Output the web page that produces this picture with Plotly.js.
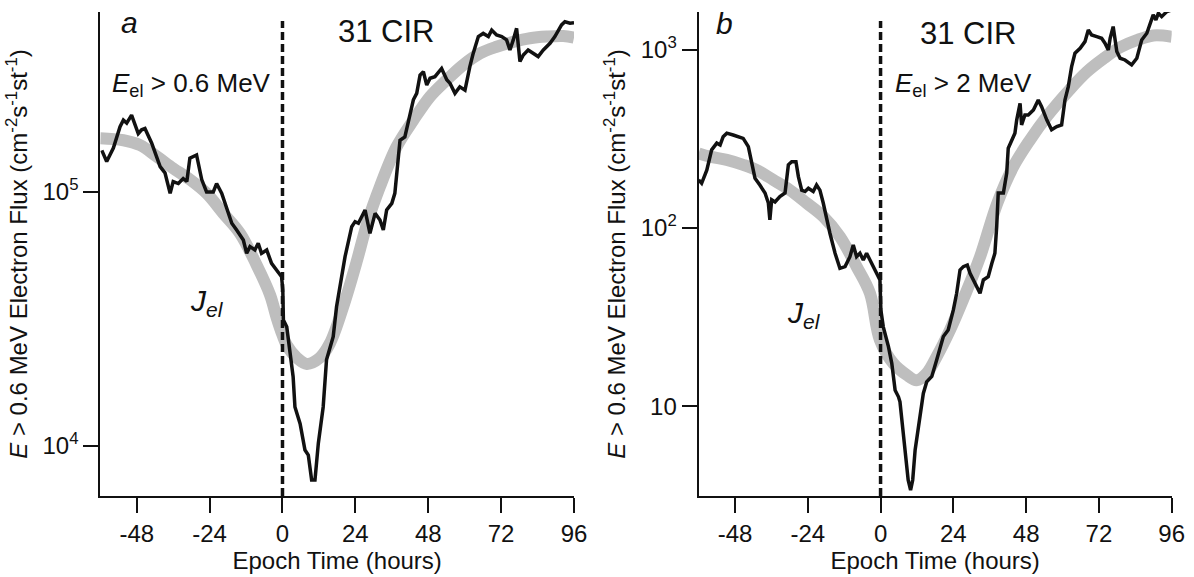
<!DOCTYPE html>
<html>
<head>
<meta charset="utf-8">
<script src="https://cdn.plot.ly/plotly-3.0.1.min.js"></script>
<style>html,body{margin:0;padding:0;background:#fff;}#chart{width:1194px;height:577px;}</style>
</head>
<body>
<div id="chart"></div>
<script>
// ---------------- data ----------------
const xTickVals = [-48, -24, 0, 24, 48, 72, 96];

// Panel a: E_el > 0.6 MeV
const timeA = [-59.5,-57.9,-55.7,-53.5,-52.4,-51.3,-49.7,-47.5,-46.4,-45.3,-43.1,-40.3,-38.7,-37.0,-36.0,-34.3,-32.7,-31.5,-30.5,-28.3,-26.6,-25.0,-22.8,-21.7,-20.0,-18.4,-16.7,-15.1,-12.9,-11.8,-10.7,-9.1,-8.0,-6.9,-5.2,-3.6,-1.9,-0.3,0.1,0.3,1.4,2.5,3.5,4.1,5.8,7.4,8.5,9.6,10.7,11.8,13.4,14.5,15.6,16.7,17.8,19.5,20.6,22.8,23.9,25.0,27.2,28.8,30.5,32.1,33.2,34.3,36.0,37.0,37.6,38.7,40.3,41.4,42.5,43.1,44.2,45.3,46.4,47.5,48.6,50.2,52.4,54.1,55.2,56.8,58.4,60.1,61.7,62.8,64.5,66.1,67.8,68.9,70.5,72.2,73.8,74.9,76.0,77.1,78.2,79.3,80.9,82.6,84.2,85.9,88.1,89.7,90.8,91.9,93.0,94.7,96.0];
const fluxA = [1.46e5,1.32e5,1.49e5,1.81e5,1.92e5,1.87e5,2.01e5,1.70e5,1.76e5,1.78e5,1.56e5,1.26e5,1.19e5,9.88e4,1.10e5,1.08e5,1.13e5,1.10e5,1.36e5,1.40e5,1.12e5,1.00e5,1.00e5,1.08e5,9.88e4,8.75e4,7.53e4,7.08e4,6.47e4,5.73e4,6.09e4,5.91e4,6.28e4,5.73e4,5.91e4,5.23e4,4.92e4,4.63e4,4.11e4,3.13e4,2.94e4,2.24e4,1.87e4,1.42e4,1.22e4,9.61e3,9.18e3,7.32e3,7.32e3,1.02e4,1.42e4,2.18e4,2.45e4,2.69e4,3.53e4,4.78e4,5.56e4,7.30e4,7.64e4,7.53e4,8.49e4,6.87e4,8.24e4,7.76e4,7.08e4,8.49e4,9.02e4,9.88e4,1.19e5,1.60e5,1.65e5,1.87e5,2.17e5,2.31e5,2.45e5,2.89e5,2.98e5,2.64e5,2.81e5,2.85e5,3.07e5,2.77e5,2.68e5,2.45e5,2.60e5,2.52e5,3.12e5,3.52e5,4.10e5,4.22e5,4.10e5,4.35e5,4.16e5,4.10e5,3.98e5,3.63e5,3.98e5,4.42e5,3.27e5,3.47e5,3.63e5,3.52e5,3.42e5,3.63e5,3.86e5,4.10e5,4.35e5,4.56e5,4.69e5,4.63e5,4.65e5];
const fitTimeA = [-60,-52.4,-46.9,-41.4,-36.0,-30.5,-25.0,-19.5,-14.0,-8.5,-4.1,-1.9,0,1.4,4.7,8.0,12.3,15.6,20.0,24.4,28.0,32.1,37.6,43.1,48.6,54.1,59.5,65.0,70.5,76.0,81.5,87.0,92.5,96];
const fitA = [1.63e5,1.60e5,1.53e5,1.38e5,1.24e5,1.12e5,9.88e4,8.24e4,6.87e4,5.15e4,3.93e4,3.19e4,2.73e4,2.49e4,2.22e4,2.10e4,2.22e4,2.53e4,3.53e4,5.30e4,7.62e4,1.05e5,1.51e5,1.92e5,2.38e5,2.77e5,3.17e5,3.52e5,3.74e5,3.91e5,4.04e5,4.10e5,4.12e5,4.06e5];
const yTickValsA = [1e4, 1e5];
const yTickTextA = ['10<sup>4</sup>', '10<sup>5</sup>'];
const levelA = 1.58e5, recoveryA = 40.3;

// Panel b: E_el > 2 MeV
const timeB = [-60,-59.0,-57.3,-55.7,-54.0,-52.9,-51.9,-50.7,-48.6,-45.3,-43.6,-42.5,-41.4,-39.8,-38.1,-37.0,-36.5,-35.9,-34.8,-33.2,-31.5,-30.4,-29.3,-27.9,-27.1,-26.0,-24.9,-23.8,-22.2,-21.1,-20.0,-18.9,-17.8,-16.7,-15.0,-13.4,-11.7,-10.1,-9.0,-7.9,-6.8,-5.7,-4.6,-2.9,-1.3,-0.2,0.1,0.9,2.6,3.7,4.8,5.9,6.4,8.1,9.1,9.9,10.6,11.4,12.4,14.1,15.2,16.9,18.5,20.7,22.3,24.0,25.1,26.2,27.3,28.6,29.5,31.1,32.8,33.9,35.5,36.7,37.7,38.3,38.8,40.5,41.6,42.1,43.2,44.3,44.9,46.0,46.5,47.6,48.7,50.4,52.0,53.1,54.8,56.4,58.1,59.7,60.8,61.9,63.0,64.1,65.8,67.4,68.5,69.6,71.3,72.9,74.0,75.1,75.7,76.7,77.9,79.0,80.6,82.8,84.5,86.1,87.8,88.8,89.9,90.8,91.6,92.7,94.4,96.0];
const fluxB = [186,178,211,274,299,292,325,340,332,318,286,231,190,174,157,138,111,144,140,150,157,226,235,235,194,163,160,167,160,174,163,138,111,93.4,72.1,59.4,60.7,69.0,80.3,69.0,72.1,66.1,72.1,63.4,55.7,51.1,34.7,27.9,21.6,17.4,12.3,11.3,10.6,5.69,3.86,3.39,3.86,5.69,7.36,11.8,13.7,14.7,18.2,24.6,26.8,34.7,43.0,58.1,60.7,62.0,55.7,49.0,43.0,51.1,53.3,63.4,72.1,102,157,157,203,280,312,340,404,500,378,430,430,459,522,479,404,355,370,378,522,620,803,954,1018,1109,1290,1209,1183,1158,1086,996,1158,1346,975,895,875,821,895,1133,1236,1376,1565,1467,1600,1531,1634,1670];
const fitTimeB = [-60,-56.2,-50.7,-45.3,-40.8,-35.4,-29.9,-24.4,-18.9,-13.4,-7.9,-3.5,-0.2,4.2,8.6,11.9,15.2,18.5,22.9,27.3,32.7,38.5,43.8,49.3,54.8,62.5,68.0,73.5,79.0,84.5,90.0,96];
const fitB = [262,251,241,226,211,186,163,138,116,89.4,60.7,43.0,23.5,17.4,15.0,14.0,15.3,19.0,26.8,40.0,68.0,138,221,312,421,600,750,890,1030,1130,1200,1180];
const yTickValsB = [10, 100, 1000];
const yTickTextB = ['10', '10<sup>2</sup>', '10<sup>3</sup>'];
const levelB = 260, recoveryB = 48;

const onsetTime = 0;

// ---------------- styling ----------------
const W = 1194, H = 577;
const FONT = 'Arial, "Liberation Sans", Helvetica, sans-serif';
const INK = '#111111';
const FIT_GREY = '#bebebe';
const REF_GREY = '#8a8a8a';
const plotTopPx = 12, plotBotPx = 496;
const yDom = [(H - plotBotPx) / H, (H - plotTopPx) / H];
const xDomA = [100.3 / W, 574 / W];
const xDomB = [698.6 / W, 1171.7 / W];
const yRangeA = [3.8013, 5.7098];
const yRangeB = [0.4969, 3.211];
const yTitle = '<i>E</i> > 0.6 MeV Electron Flux (cm<sup>-2</sup>s<sup>-1</sup>st<sup>-1</sup>)';

function xAxis(domain, anchor) {
  return {
    domain: domain, anchor: anchor, range: [-60, 96],
    tickvals: xTickVals, ticktext: xTickVals.map(String),
    ticks: 'outside', ticklen: 15, tickwidth: 2, tickcolor: INK,
    showline: true, linecolor: INK, linewidth: 2,
    showgrid: false, zeroline: false, mirror: false,
    tickfont: {family: FONT, size: 24, color: INK},
    title: {text: 'Epoch Time (hours)', font: {family: FONT, size: 24, color: INK}, standoff: 2},
    automargin: false, fixedrange: true
  };
}
function yAxis(anchor, range, tv, tt) {
  return {
    domain: yDom, anchor: anchor, type: 'log', range: range,
    tickvals: tv, ticktext: tt,
    ticks: 'outside', ticklen: 15, tickwidth: 2, tickcolor: INK,
    showline: true, linecolor: INK, linewidth: 2,
    showgrid: false, zeroline: false, mirror: false,
    tickfont: {family: FONT, size: 24, color: INK},
    title: {text: yTitle, font: {family: FONT, size: 24, color: INK}, standoff: 8},
    automargin: false, fixedrange: true
  };
}

const traces = [
  {x: fitTimeA, y: fitA, xaxis: 'x', yaxis: 'y', mode: 'lines',
   line: {color: FIT_GREY, width: 12, shape: 'spline', smoothing: 1}, hoverinfo: 'skip'},
  {x: timeA, y: fluxA, xaxis: 'x', yaxis: 'y', mode: 'lines',
   line: {color: INK, width: 3.5}, hoverinfo: 'skip'},
  {x: fitTimeB, y: fitB, xaxis: 'x2', yaxis: 'y2', mode: 'lines',
   line: {color: FIT_GREY, width: 12, shape: 'spline', smoothing: 1}, hoverinfo: 'skip'},
  {x: timeB, y: fluxB, xaxis: 'x2', yaxis: 'y2', mode: 'lines',
   line: {color: INK, width: 3.5}, hoverinfo: 'skip'}
];

const dashTop = (plotBotPx - 21) / (plotBotPx - plotTopPx);
const shapes = [
  // onset dashed lines
  {type: 'line', xref: 'x', yref: 'y domain', x0: onsetTime, x1: onsetTime, y0: 0, y1: dashTop,
   line: {color: INK, width: 3.5, dash: '8px,4px'}, layer: 'above'},
  {type: 'line', xref: 'x2', yref: 'y2 domain', x0: onsetTime, x1: onsetTime, y0: 0, y1: dashTop,
   line: {color: INK, width: 3.5, dash: '8px,4px'}, layer: 'above'},
  // recovery reference lines
  {type: 'line', xref: 'x', yref: 'y', x0: -60, x1: recoveryA, y0: Math.log10(levelA), y1: Math.log10(levelA),
   line: {color: REF_GREY, width: 1}, layer: 'below'},
  {type: 'line', xref: 'x', yref: 'y', x0: recoveryA, x1: recoveryA, y0: yRangeA[0], y1: Math.log10(levelA),
   line: {color: REF_GREY, width: 1}, layer: 'below'},
  {type: 'line', xref: 'x2', yref: 'y2', x0: -60, x1: recoveryB, y0: Math.log10(levelB), y1: Math.log10(levelB),
   line: {color: REF_GREY, width: 1}, layer: 'below'},
  {type: 'line', xref: 'x2', yref: 'y2', x0: recoveryB, x1: recoveryB, y0: yRangeB[0], y1: Math.log10(levelB),
   line: {color: REF_GREY, width: 1}, layer: 'below'}
];

function ann(text, px, py, size, xanchor) {
  return {text: text, xref: 'paper', yref: 'paper', x: px / W, y: 1 - py / H,
          xanchor: xanchor || 'center', yanchor: 'middle', showarrow: false,
          font: {family: FONT, size: size, color: INK}};
}
const annotations = [
  ann('<i>a</i>', 129, 22, 30),
  ann('<i>b</i>', 725, 24, 30),
  ann('31 CIR', 386, 32, 31),
  ann('31 CIR', 968, 34, 31),
  ann('<i>E</i><sub>el</sub> > 0.6 MeV', 110, 84, 26, 'left'),
  ann('<i>E</i><sub>el</sub> > 2 MeV', 893, 84, 26, 'left'),
  ann('<i>J</i><sub><i>el</i></sub>', 188, 302, 30, 'left'),
  ann('<i>J</i><sub><i>el</i></sub>', 785, 315, 30, 'left')
];

const layout = {
  width: W, height: H,
  margin: {l: 0, r: 0, t: 0, b: 0, pad: 0},
  paper_bgcolor: '#ffffff', plot_bgcolor: 'rgba(0,0,0,0)',
  showlegend: false,
  font: {family: FONT, color: INK},
  xaxis: xAxis(xDomA, 'y'),
  yaxis: yAxis('x', yRangeA, yTickValsA, yTickTextA),
  xaxis2: xAxis(xDomB, 'y2'),
  yaxis2: yAxis('x2', yRangeB, yTickValsB, yTickTextB),
  shapes: shapes,
  annotations: annotations
};

Plotly.newPlot('chart', traces, layout, {staticPlot: true, displayModeBar: false});
</script>
</body>
</html>
